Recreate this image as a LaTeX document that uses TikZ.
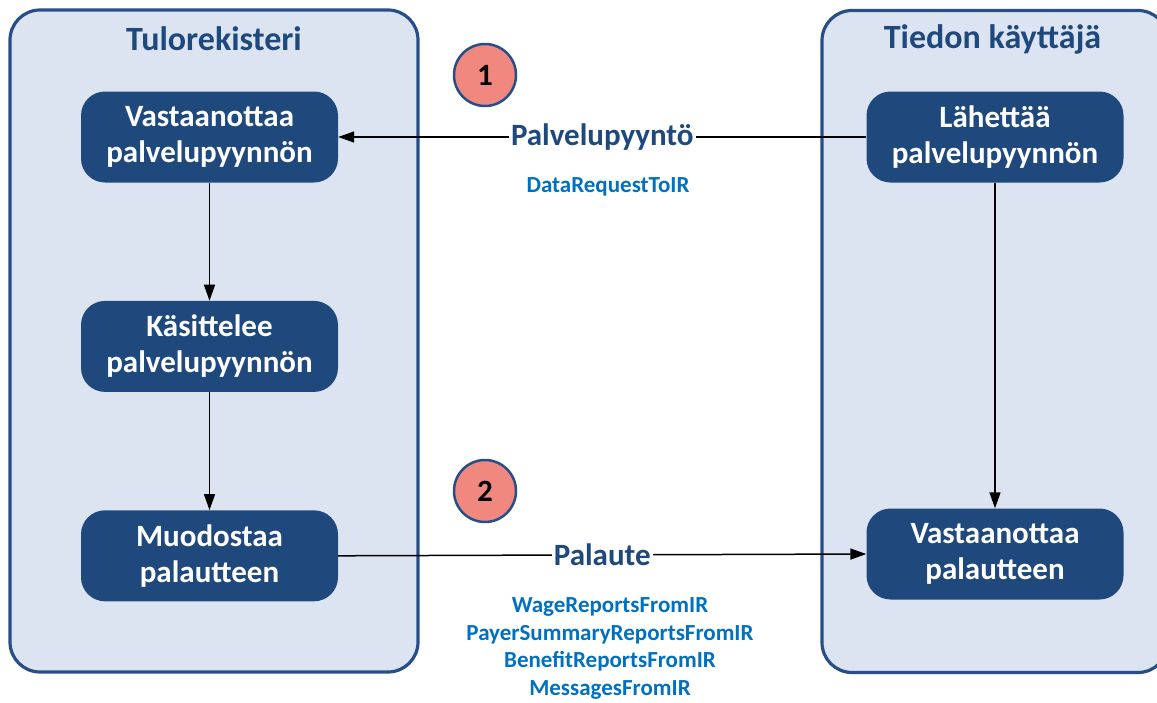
\documentclass[tikz,border=0pt]{standalone}
\usepackage{fontspec}
\setmainfont{Carlito}
\usepackage{xcolor}
\usepackage{tikz}
\definecolor{laneblue}{RGB}{40, 78, 135}
\definecolor{lanefill}{RGB}{220, 228, 242}
\definecolor{stepblue}{RGB}{31, 73, 125}
\definecolor{msgblue}{RGB}{0, 112, 192}
\definecolor{badgered}{RGB}{241, 136, 128}
\usetikzlibrary{arrows.meta, positioning}

\begin{document}
\begin{tikzpicture}[
        x=1pt, y=-1pt,
        node distance=118pt,
        lane/.style={rectangle, draw=laneblue, fill=lanefill, line width=3.2pt,
                     rounded corners=30pt, minimum height=662pt, inner sep=0pt},
        lanetitle/.style={text=stepblue, font=\fontsize{34}{40}\selectfont\bfseries},
        stepbox/.style={rectangle, fill=stepblue, text=white, align=center,
                        minimum width=257pt, minimum height=91pt, rounded corners=24pt,
                        font=\fontsize{31}{36}\selectfont\bfseries},
        badge/.style={circle, draw=laneblue, fill=badgered, line width=2.5pt,
                      minimum size=62pt, inner sep=0pt, font=\fontsize{31}{36}\selectfont\bfseries},
        msg/.style={fill=white, inner sep=2pt, text=stepblue,
                    font=\fontsize{31}{36}\selectfont\bfseries},
        msgtype/.style={text=msgblue, align=center, font=\fontsize{23}{27.5}\selectfont\bfseries},
        arrow/.style={-{Triangle[length=16pt, width=11pt]}, line width=1.5pt}
    ]
        \useasboundingbox (0,0) rectangle (1157,702);

        % swimlanes
        \node[lane, minimum width=408pt] (tulo) at (214,341) {};
        \node[lane, minimum width=346pt] (user) at (995,341.5) {};
        \node[lanetitle] (tulotitle) at (214,39) {Tulorekisteri};
        \node[lanetitle] (usertitle) at (992.5,39) {Tiedon käyttäjä};

        % Tulorekisteri
        \node[stepbox] (receive) at (209.5,137) {Vastaanottaa\\palvelupyynnön};
        \node[stepbox, below=118pt of receive] (process) {Käsittelee\\palvelupyynnön};
        \node[stepbox, below=118pt of process] (respond) {Muodostaa\\palautteen};

        % Tiedon käyttäjä
        \node[stepbox] (send) at (995,137) {Lähettää\\palvelupyynnön};
        \node[stepbox] (getreply) at (995,554) {Vastaanottaa\\palautteen};

        \node[badge] (one) at (485,75) {1};
        \node[badge] (two) at (485,491) {2};

        \draw[arrow] (receive) -- (process);
        \draw[arrow] (process) -- (respond);
        \draw[arrow] (send) -- (getreply);
        \draw[arrow] (send.west) -- node[msg] (request) {Palvelupyyntö} (receive.east);
        \draw[arrow] (respond.east) -- node[msg] (reply) {Palaute} (getreply.west);

        \node[msgtype] (requesttype) at (608,187) {DataRequestToIR};
        \node[msgtype] (replytype) at (610,648.5) {WageReportsFromIR\\PayerSummaryReportsFromIR\\BenefitReportsFromIR\\MessagesFromIR};
    \end{tikzpicture}
\end{document}
